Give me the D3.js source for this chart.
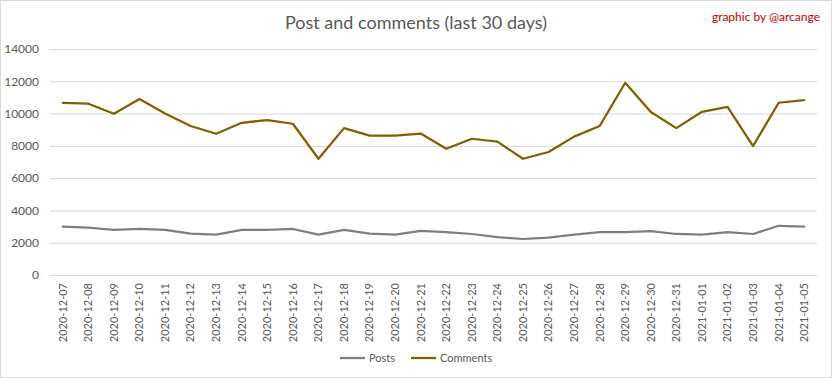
<!DOCTYPE html>
<html><head><meta charset="utf-8">
<script src="https://cdn.jsdelivr.net/npm/d3@7"></script>
<style>body{margin:0;background:#fff}svg{display:block}</style>
</head><body>
<svg id="c" width="832" height="378"></svg>
<script>
const dates = ["2020-12-07","2020-12-08","2020-12-09","2020-12-10","2020-12-11","2020-12-12","2020-12-13","2020-12-14","2020-12-15","2020-12-16","2020-12-17","2020-12-18","2020-12-19","2020-12-20","2020-12-21","2020-12-22","2020-12-23","2020-12-24","2020-12-25","2020-12-26","2020-12-27","2020-12-28","2020-12-29","2020-12-30","2020-12-31","2021-01-01","2021-01-02","2021-01-03","2021-01-04","2021-01-05"];
const posts = [2990,2930,2790,2850,2790,2560,2500,2790,2790,2850,2500,2790,2560,2500,2730,2660,2540,2350,2230,2310,2500,2660,2660,2720,2540,2500,2660,2540,3050,2990];
const comments = [10670,10610,9990,10900,10010,9230,8750,9430,9600,9370,7200,9100,8630,8630,8760,7820,8440,8260,7200,7620,8570,9230,11910,10100,9100,10110,10420,7990,10670,10840];
const yTicks = [0,2000,4000,6000,8000,10000,12000,14000];
const seriesNames = ["Posts","Comments"];
const colors = ["#7f7f7f","#7f6000"];

const svg = d3.select("#c");
const font = "Lato, 'Open Sans', sans-serif";
svg.append("rect").attr("x",0.5).attr("y",0.5).attr("width",831).attr("height",377)
  .attr("fill","#fff").attr("stroke","#d9d9d9");

const x = d3.scaleBand().domain(dates).range([50,817]);
const y = d3.scaleLinear().domain([0,14000]).range([275,49]);

const gy = svg.append("g").attr("transform","translate(50,0)")
  .call(d3.axisLeft(y).tickValues(yTicks).tickSize(-767).tickPadding(11).tickFormat(d3.format("d")));
gy.select(".domain").remove();
gy.selectAll(".tick line").attr("stroke","#d9d9d9").attr("stroke-width",1);
gy.selectAll(".tick text").attr("fill","#595959").style("font-family",font).style("font-size","12px");

const gx = svg.append("g").attr("transform","translate(0,275)")
  .call(d3.axisBottom(x).tickSize(0).tickPadding(0));
gx.select(".domain").remove();
gx.selectAll(".tick text").attr("fill","#595959").style("font-family",font).style("font-size","11px")
  .attr("text-anchor","end").attr("transform","translate(0,8) rotate(-90)").attr("dy","0.35em").attr("y",0).attr("x",0);

const line = d3.line().x((d,i)=>x(dates[i])+x.bandwidth()/2).y(d=>y(d));
[posts,comments].forEach((s,k)=>{
  svg.append("path").datum(s).attr("d",line).attr("fill","none")
    .attr("stroke",colors[k]).attr("stroke-width",2.25).attr("stroke-linejoin","round").attr("stroke-linecap","round");
});

svg.append("text").attr("x",416).attr("y",29).attr("text-anchor","middle")
  .attr("fill","#595959").style("font-family",font).style("font-size","18px").text("Post and comments (last 30 days)");
svg.append("text").attr("x",820).attr("y",21).attr("text-anchor","end")
  .attr("fill","#c00000").style("font-family",font).style("font-size","12px").text("graphic by @arcange");

const legX = [340,411];
seriesNames.forEach((n,k)=>{
  svg.append("line").attr("x1",legX[k]).attr("x2",legX[k]+25).attr("y1",358).attr("y2",358)
    .attr("stroke",colors[k]).attr("stroke-width",2.25);
  svg.append("text").attr("x",legX[k]+29).attr("y",358).attr("dy","0.35em")
    .attr("fill","#595959").style("font-family",font).style("font-size","11px").text(n);
});
</script>
</body></html>
